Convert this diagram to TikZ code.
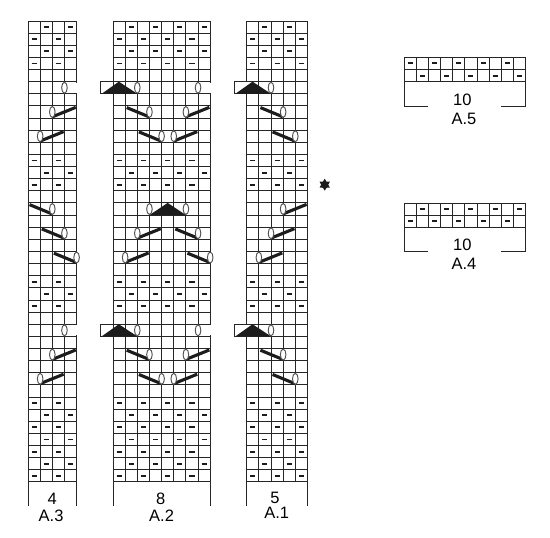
\documentclass[tikz,border=0pt]{standalone}
\usepackage{fontspec}
\setmainfont{Liberation Sans}
\usepackage{tikz}
\usetikzlibrary{shapes.geometric}
\definecolor{gridgray}{RGB}{38,38,38}
\definecolor{inkdark}{RGB}{28,28,28}
\tikzset{
    gridline/.style={
        line width=0.95pt,
        gridgray
    },
    purlmark/.style={
        line width=1.9pt,
        inkdark
    },
    leanstitch/.style={
        line width=3.1pt,
        inkdark
    },
    yarnover/.style={
        line width=0.95pt,
        draw=gridgray!80,
        fill=white
    },
    decrease/.style={
        fill=inkdark
    },
    chartlabel/.style={
        black,
        inner sep=0pt,
        font=\fontsize{16.5}{18}\selectfont
    }
}
% rows of short dashes
\newcommand{\purlrows}[2]{\foreach \row in {#1} \foreach \col in {#2}
    \draw[purlmark] (\col+.29,\row+.5) -- (\col+.71,\row+.5);}
% grid of a tall chart, #1 columns
\newcommand{\chartgrid}[1]{
    \foreach \col in {0,...,#1} \draw[gridline] (\col,0) -- (\col,38);
    \foreach \row in {0,...,38} \draw[gridline] (0,\row) -- (#1,\row);
    \draw[gridline] (0,38) -- (0,39.96) (#1,38) -- (#1,39.96);}
% short grid with its bracket
\newcommand{\widegrid}{
    \foreach \col in {0,...,10} \draw[gridline] (\col,0) -- (\col,2);
    \foreach \row in {0,1,2} \draw[gridline] (0,\row) -- (10,\row);
    \draw[gridline] (2,4) -- (0,4) -- (0,2) (8,4) -- (10,4) -- (10,2);}
% gap in the right edge
\newcommand{\edgegap}[2]{\draw[white,line width=2.4pt] (#1,#2+.08) -- (#1,#2+.92);}
\newcommand{\eyelet}[2]{\draw[yarnover] (#1,#2+.5) ellipse (.23 and .45);}
% slanted bars with their eyelet
\newcommand{\leanright}[2]{\draw[leanstitch] (#1,#2+.9) -- (#1+1.93,#2+.12); \eyelet{#1}{#2}}
\newcommand{\leanleft}[2]{\draw[leanstitch] (#1-1.87,#2+.14) -- (#1-.03,#2+.9); \eyelet{#1}{#2}}
% black triangle, #1 is its left end
\newcommand{\wedgeup}[2]{\fill[decrease] (#1,#2+1) -- (#1+1.5,#2) -- (#1+3,#2+1) -- cycle;}
% box sticking out on the left with triangle and eyelet
\newcommand{\sidebox}[1]{\draw[gridline,fill=white] (0,#1) -- (-1,#1) -- (-1,#1+1) -- (0,#1+1);
    \fill[decrease] (-.93,#1+1) -- (.48,#1) -- (2,#1+1) -- cycle; \eyelet{2}{#1}}

\begin{document}
\begin{tikzpicture}[x=1pt,y=-1pt]
    \useasboundingbox (0,0) rectangle (550,538);

    % ===================== A.3 =====================
    \begin{scope}[shift={(28,21)},x=12.15pt,y=-12.13pt]
        \chartgrid{4}
        \purlrows{0,2,12,22,32,34,36}{1,3}
        \purlrows{1,3,11,13,21,23,31,33,35,37}{0,2}
        % open edge on the right
        \edgegap{4}{5}
        \edgegap{4}{25}
        \eyelet{3}{5}
        \eyelet{3}{25}
        \leanright{2}{7}
        \leanright{1}{9}
        \leanleft{2}{15}
        \leanleft{3}{17}
        \leanleft{4}{19}
        \leanright{2}{27}
        \leanright{1}{29}
        \node[chartlabel] (num3) at (2,39.4) {4};
        \node[chartlabel] (name3) at (1.9,40.8) {A.3};
    \end{scope}

    % ===================== A.2 =====================
    \begin{scope}[shift={(113,21)},x=12.15pt,y=-12.13pt]
        \chartgrid{8}
        \purlrows{0,2,12,22,32,34,36}{1,3,5,7}
        \purlrows{1,3,11,13,21,23,31,33,35,37}{0,2,4,6}
        \edgegap{8}{5}
        \edgegap{8}{25}
        \sidebox{5}
        \sidebox{25}
        \eyelet{7}{5}
        \eyelet{7}{25}
        \foreach \row in {7,27} {
            \leanleft{3}{\row}
            \leanright{6}{\row}
        }
        \foreach \row in {9,29} {
            \leanleft{4}{\row}
            \leanright{5}{\row}
        }
        % middle triangle
        \wedgeup{3}{15}
        \eyelet{3}{15}
        \eyelet{6}{15}
        \leanright{2}{17}
        \leanleft{7}{17}
        \leanright{1}{19}
        \leanleft{8}{19}
        \node[chartlabel] (num2) at (3.93,39.4) {8};
        \node[chartlabel] (name2) at (4,40.8) {A.2};
    \end{scope}

    % ===================== A.1 =====================
    \begin{scope}[shift={(246.7,21)},x=12.15pt,y=-12.13pt]
        \chartgrid{5}
        \purlrows{0,2,12,22,32,34,36}{1,3}
        \purlrows{1,3,11,13,21,23,31,33,35,37}{0,2,4}
        \sidebox{5}
        \sidebox{25}
        \leanleft{3}{7}
        \leanleft{4}{9}
        \leanright{3}{15}
        \leanright{2}{17}
        \leanright{1}{19}
        \leanleft{3}{27}
        \leanleft{4}{29}
        \node[chartlabel] (num1) at (2.33,39.3) {5};
        \node[chartlabel] (name1) at (2.47,40.55) {A.1};
    \end{scope}

    % star between the charts
    \node[star,star points=6,star point ratio=1.7,fill=inkdark,inner sep=0pt,minimum size=12pt] (mark) at (324.7,184.7) {};

    % ===================== A.5 =====================
    \begin{scope}[shift={(404,57.3)},x=12.17pt,y=-12.2pt]
        \widegrid
        \purlrows{0}{0,2,4,6,8}
        \purlrows{1}{1,3,5,7,9}
        \node[chartlabel] (num5) at (4.8,3.5) {10};
        \node[chartlabel] (name5) at (4.93,5.06) {A.5};
    \end{scope}

    % ===================== A.4 =====================
    \begin{scope}[shift={(404,203)},x=12.17pt,y=-12.2pt]
        \widegrid
        \purlrows{0}{1,3,5,7,9}
        \purlrows{1}{0,2,4,6,8}
        \node[chartlabel] (num4) at (4.8,3.44) {10};
        \node[chartlabel] (name4) at (4.93,5) {A.4};
    \end{scope}
\end{tikzpicture}
\end{document}
